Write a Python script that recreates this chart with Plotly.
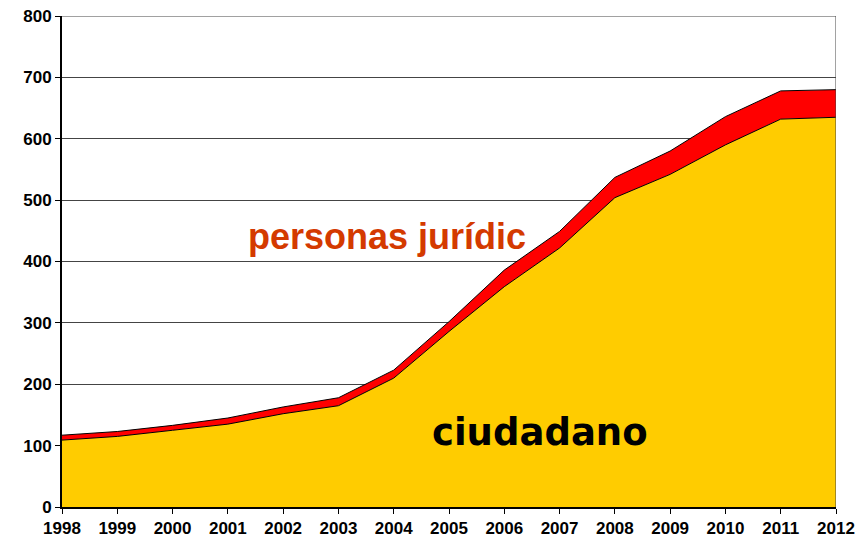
import plotly.graph_objects as go

# Data
years = list(range(1998, 2013))
ciudadano = [109, 115, 125, 135, 152, 165, 210, 286, 359, 422, 504, 542, 590, 632, 635]
personas_juridicas = [8, 8, 8, 10, 11, 13, 13, 16, 27, 27, 33, 38, 46, 46, 45]
y_ticks = list(range(0, 801, 100))

fig = go.Figure()
fig.add_trace(go.Scatter(
    x=years, y=ciudadano, stackgroup="one", mode="lines",
    line=dict(color="black", width=1), fillcolor="#FFCC00", name="ciudadano",
))
fig.add_trace(go.Scatter(
    x=years, y=personas_juridicas, stackgroup="one", mode="lines",
    line=dict(color="black", width=1), fillcolor="#FF0000", name="personas jurídicas",
))

fig.add_annotation(x=2003.88, y=441, text="<b>personas jurídic</b>", showarrow=False,
                   font=dict(family="Liberation Sans, Arial", size=36, color="#D43A00"))
fig.add_annotation(x=2006.65, y=122, text="<b>ciudadano</b>", showarrow=False,
                   font=dict(family="DejaVu Sans", size=37, color="black"))

tick_font = dict(family="Liberation Sans, Arial", size=17, color="black")
# page body adds ~8px offset, so size/margins are shrunk accordingly
fig.update_layout(
    template="none",
    width=857, height=531,
    margin=dict(l=54, r=29, t=8, b=32),
    plot_bgcolor="white", paper_bgcolor="white",
    showlegend=False,
    xaxis=dict(range=[1998, 2012], tickvals=years, ticktext=[f"<b>{y}</b>" for y in years],
               showgrid=False, showline=True, linecolor="black", linewidth=2,
               ticks="outside", ticklen=5, tickcolor="black", tickfont=tick_font,
               automargin=False, zeroline=False, ticklabeloverflow="allow"),
    yaxis=dict(range=[0, 800], tickvals=y_ticks, ticktext=[f"<b>{v}</b>" for v in y_ticks],
               showgrid=True, gridcolor="#444444", gridwidth=1,
               showline=True, linecolor="black", linewidth=2,
               ticks="outside", ticklen=5, tickcolor="black", tickfont=tick_font,
               automargin=False, zeroline=False, ticklabeloverflow="allow"),
)
# frame lines on top and right, as in the reference
fig.add_shape(type="line", xref="x", yref="paper", x0=2012, x1=2012, y0=0, y1=1,
              line=dict(color="#444444", width=1))
fig.add_shape(type="line", xref="paper", yref="y", x0=0, x1=1, y0=800, y1=800,
              line=dict(color="#444444", width=1))

fig.write_html("out.html")
